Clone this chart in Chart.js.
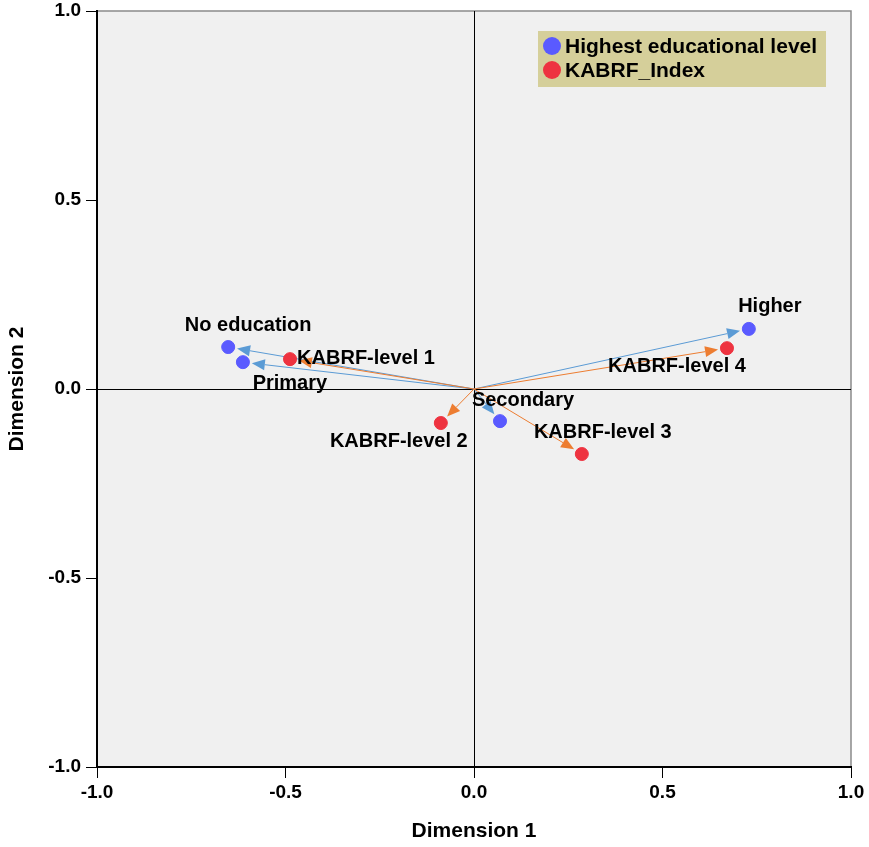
<!DOCTYPE html>
<html>
<head>
<meta charset="utf-8">
<script src="https://cdn.jsdelivr.net/npm/chart.js@4/dist/chart.umd.min.js"></script>
<style>
  body { margin: 0; background: #fff; }
</style>
</head>
<body>
<canvas id="myChart" width="869" height="847"></canvas>
<script>
// category points
const eduLabels = ['No education', 'Primary', 'Secondary', 'Higher'];
const eduDim1 = [-0.652, -0.613, 0.069, 0.729];
const eduDim2 = [0.111, 0.071, -0.085, 0.159];

const kabrfLabels = ['KABRF-level 1', 'KABRF-level 2', 'KABRF-level 3', 'KABRF-level 4'];
const kabrfDim1 = [-0.488, -0.088, 0.286, 0.671];
const kabrfDim2 = [0.079, -0.090, -0.172, 0.108];

const axisTicks = [-1.0, -0.5, 0.0, 0.5, 1.0];

const FONT = '"Liberation Sans", Arial, sans-serif';

// where each text sits relative to its point (px)
const labelOffsets = {
    'No education': [20, -22],
    'Primary': [47, 21],
    'Secondary': [23, -21],
    'Higher': [21, -22],
    'KABRF-level 1': [76, -1],
    'KABRF-level 2': [-42, 18],
    'KABRF-level 3': [21, -22],
    'KABRF-level 4': [-50, 18]
};

function toPoints(xs, ys, names) {
    return xs.map((x, i) => ({x: x, y: ys[i], name: names[i]}));
}

function drawArrow(ctx, x0, y0, x1, y1, color) {
    let ang = Math.atan2(y1 - y0, x1 - x0);
    let len = Math.hypot(x1 - x0, y1 - y0) - 9;
    let tx = x0 + Math.cos(ang) * len, ty = y0 + Math.sin(ang) * len;
    let head = 13, half = 5.5;
    let bx = tx - Math.cos(ang) * head, by = ty - Math.sin(ang) * head;
    ctx.strokeStyle = color;
    ctx.fillStyle = color;
    ctx.lineWidth = 1;
    ctx.beginPath();
    ctx.moveTo(x0, y0);
    ctx.lineTo(bx, by);
    ctx.stroke();
    ctx.beginPath();
    ctx.moveTo(tx, ty);
    ctx.lineTo(bx - Math.sin(ang) * half, by + Math.cos(ang) * half);
    ctx.lineTo(bx + Math.sin(ang) * half, by - Math.cos(ang) * half);
    ctx.closePath();
    ctx.fill();
}

const biplotPlugin = {
    id: 'biplot',
    beforeDraw(chart) {
        const {ctx, chartArea: a} = chart;
        ctx.save();
        ctx.fillStyle = '#f0f0f0';
        ctx.fillRect(a.left, a.top, a.right - a.left, a.bottom - a.top);
        ctx.strokeStyle = '#8a8a8a';
        ctx.lineWidth = 1.5;
        ctx.beginPath();
        ctx.moveTo(a.left, a.top);
        ctx.lineTo(a.right, a.top);
        ctx.lineTo(a.right, a.bottom);
        ctx.stroke();
        ctx.restore();
    },
    beforeDatasetsDraw(chart) {
        const {ctx, scales: {x, y}} = chart;
        const ox = x.getPixelForValue(0), oy = y.getPixelForValue(0);
        const arrowColors = ['#5b9bd5', '#ed7d31'];
        ctx.save();
        chart.data.datasets.forEach((ds, di) => {
            ds.data.forEach(p => {
                drawArrow(ctx, ox, oy, x.getPixelForValue(p.x), y.getPixelForValue(p.y), arrowColors[di]);
            });
        });
        ctx.restore();
    },
    afterDatasetsDraw(chart) {
        const {ctx, chartArea: a, scales: {x, y}} = chart;
        ctx.save();
        // point labels
        ctx.font = 'bold 20px ' + FONT;
        ctx.fillStyle = '#000';
        ctx.textAlign = 'center';
        ctx.textBaseline = 'middle';
        chart.data.datasets.forEach(ds => {
            ds.data.forEach(p => {
                let off = labelOffsets[p.name] || [0, 0];
                ctx.fillText(p.name, x.getPixelForValue(p.x) + off[0], y.getPixelForValue(p.y) + off[1]);
            });
        });
        // legend box inside the plot
        let bx = a.right - 313, by = a.top + 20, bw = 288, bh = 56;
        ctx.fillStyle = '#d5cf9a';
        ctx.fillRect(bx, by, bw, bh);
        ctx.textAlign = 'left';
        ctx.font = 'bold 21px ' + FONT;
        chart.data.datasets.forEach((ds, i) => {
            let cy = by + 15 + i * 24;
            ctx.fillStyle = ds.backgroundColor;
            ctx.beginPath();
            ctx.arc(bx + 14, cy, 9, 0, Math.PI * 2);
            ctx.fill();
            ctx.fillStyle = '#000';
            ctx.fillText(ds.label, bx + 27, cy + 1);
        });
        ctx.restore();
    }
};

const tickFont = {family: FONT, size: 19, weight: 'bold'};
const titleFont = {family: FONT, size: 21, weight: 'bold'};

function axisOpts(titleText, isX) {
    return {
        type: 'linear',
        min: -1,
        max: 1,
        afterBuildTicks: (scale) => { scale.ticks = axisTicks.map(v => ({value: v})); },
        afterFit: (scale) => {
            if (isX) {
                scale.height = 80;
            } else {
                scale.width = 97;
                scale.paddingTop = 11;
                scale.paddingBottom = 0;
            }
        },
        border: {display: true, color: '#000', width: 2},
        grid: {
            drawOnChartArea: true,
            color: (c) => (c.tick && c.tick.value === 0 ? '#000' : 'rgba(0,0,0,0)'),
            tickColor: '#000',
            tickLength: 11,
            lineWidth: 1
        },
        ticks: {
            color: '#000',
            font: tickFont,
            padding: isX ? 3 : 5,
            maxRotation: 0,
            callback: (v) => Number(v).toFixed(1)
        },
        title: {
            display: true,
            text: titleText,
            color: '#000',
            font: titleFont,
            padding: {top: isX ? 0 : 5, bottom: isX ? 3 : 0}
        }
    };
}

const ctx = document.getElementById('myChart').getContext('2d');
const myChart = new Chart(ctx, {
    type: 'scatter',
    data: {
        datasets: [{
            label: 'Highest educational level',
            data: toPoints(eduDim1, eduDim2, eduLabels),
            backgroundColor: '#5a5aff',
            borderColor: '#5a5aff',
            pointRadius: 6.5,
            pointHoverRadius: 6.5
        }, {
            label: 'KABRF_Index',
            data: toPoints(kabrfDim1, kabrfDim2, kabrfLabels),
            backgroundColor: '#ee3340',
            borderColor: '#ee3340',
            pointRadius: 6.5,
            pointHoverRadius: 6.5
        }]
    },
    options: {
        responsive: false,
        animation: false,
        layout: {padding: {top: 0, right: 18, left: 0, bottom: 0}},
        plugins: {
            legend: {display: false},
            tooltip: {enabled: false}
        },
        scales: {
            x: axisOpts('Dimension 1', true),
            y: axisOpts('Dimension 2', false)
        }
    },
    plugins: [biplotPlugin]
});
</script>
</body>
</html>
